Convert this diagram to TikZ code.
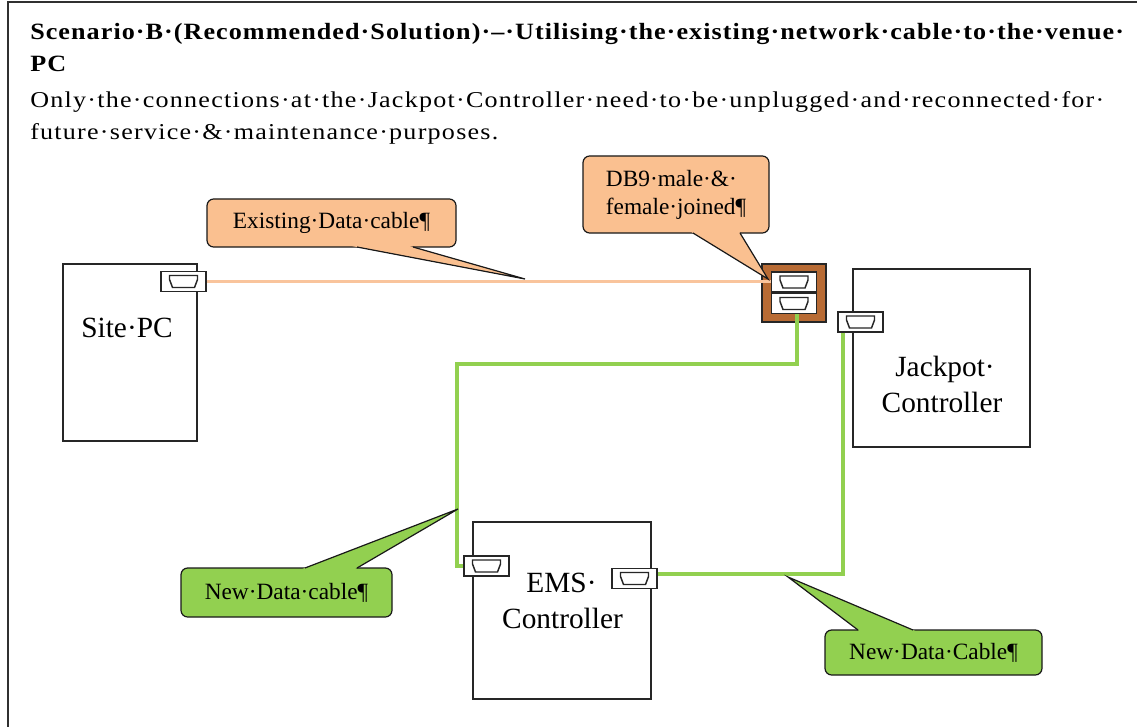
\documentclass[tikz,border=0pt]{standalone}
\usepackage{fontspec}
\setmainfont{Liberation Serif}
\newfontfamily\titlefont[FakeStretch=1.12,LetterSpace=4.5]{Liberation Serif}
\newfontfamily\bodyfont[FakeStretch=1.15,LetterSpace=5.5]{Liberation Serif}
\usetikzlibrary{calc}
\definecolor{peach}{HTML}{FAC090}
\definecolor{peachline}{HTML}{F9C49C}
\definecolor{brownjoin}{HTML}{B86B34}
\definecolor{greenc}{HTML}{92D050}
\definecolor{framegray}{HTML}{303030}
\tikzset{
  devbox/.style={draw=black!85, line width=1.1pt, fill=white, inner sep=0pt},
  portbox/.style={draw=black!85, line width=1.1pt, fill=white, inner sep=0pt, minimum width=33.75pt, minimum height=15pt},
  joinbox/.style={draw=black!85, line width=1.1pt, fill=brownjoin, inner sep=0pt, minimum width=48pt, minimum height=43.5pt},
  devlabel/.style={font=\fontsize{22}{26}\selectfont, inner sep=0pt, anchor=base},
  calloutbox/.style={draw=black!90, line width=0.9pt, rounded corners=5pt, inner sep=0pt, font=\fontsize{17.5}{21}\selectfont},
  orangecable/.style={draw=peachline, line width=2.3pt},
  greencable/.style={draw=greenc, line width=2.3pt},
  titletext/.style={font=\titlefont\fontsize{17.5}{21}\selectfont\bfseries, inner sep=0pt, anchor=base west},
  bodytext/.style={font=\bodyfont\fontsize{17}{20}\selectfont, inner sep=0pt, anchor=base west}
}
\begin{document}
\begin{tikzpicture}[x=0.75pt,y=-0.75pt]
\useasboundingbox (0,0) rectangle (1137,727);
% frame
\draw[framegray, line width=1.5pt] (8,727) -- (8,2) -- (1137,2);
% heading texts
\node[titletext] (t1) at (30,40) {Scenario·B·(Recommended·Solution)·–·Utilising·the·existing·network·cable·to·the·venue·};
\node[titletext] (t2) at (30,72) {PC};
\node[bodytext] (t3) at (30,108) {Only·the·connections·at·the·Jackpot·Controller·need·to·be·unplugged·and·reconnected·for·};
\node[bodytext] (t4) at (30,140) {future·service·\&·maintenance·purposes.};
% devices
\node[devbox, minimum width=100.5pt, minimum height=132.75pt] (site) at (130,352.5) {};
\node[devbox, minimum width=132.75pt, minimum height=133.5pt] (jack) at (941.5,358) {};
\node[devbox, minimum width=133.5pt, minimum height=132.75pt] (ems) at (562,610.5) {};
\node[devlabel] (sitel) at (127,337) {Site·PC};
\node[devlabel] (jackl1) at (945,376) {Jackpot·};
\node[devlabel] (jackl2) at (942,412) {Controller};
\node[devlabel] (emsl1) at (561.5,592) {EMS·};
\node[devlabel] (emsl2) at (562.5,628) {Controller};
% joiner
\node[joinbox] (join) at (794,293) {};
% ports
\node[portbox] (sc) at (183.5,281.5) {};
\node[portbox] (ju) at (794,282) {};
\node[portbox] (jlo) at (794,303.5) {};
\node[portbox] (jc) at (860.5,322) {};
\node[portbox] (emsl) at (486.5,566) {};
\node[portbox] (emsr) at (634.5,578.5) {};
\foreach \c in {sc,ju,jlo,jc,emsl,emsr}{
  \draw[black!85, line width=1.1pt, shift={(\c.center)}] (-14,-6) -- (14,-6) -- (14,-2) -- (11,6) -- (-11,6) -- (-14,-2) -- cycle;
}
% cables
\draw[orangecable] (sc.east) -- (sc.east -| ju.west);
\coordinate (g1) at (457,364);
\draw[greencable] ($(jlo.south)+(3,0)$) |- (g1) |- (emsl.west);
\coordinate (g2) at (843,574);
\draw[greencable] (jc.south -| g2) -- (g2) -- ($(emsr.east)+(0,-4.5)$);
% Existing data cable
\coordinate (ea) at (357,247); \coordinate (et) at (525,279); \coordinate (eb) at (413,247);
\fill[peach] (ea) -- (et) -- (eb) -- cycle;
\node[calloutbox, fill=peach, minimum width=186.75pt, minimum height=36pt] (ce) at (331.5,223) {Existing·Data·cable¶};
\fill[peach] ($(et)!1.15!(ea)$) -- (et) -- ($(et)!1.15!(eb)$) -- cycle;
\draw[black!90, line width=0.9pt] (ea) -- (et) -- (eb);
% DB9
\coordinate (da) at (693,233); \coordinate (dt) at (768,279); \coordinate (db) at (740,233);
\fill[peach] (da) -- (dt) -- (db) -- cycle;
\node[calloutbox, fill=peach, minimum width=139.5pt, minimum height=57.75pt, align=left] (cd) at (676,194.5) {DB9·male·\&·\\female·joined¶};
\fill[peach] ($(dt)!1.1!(da)$) -- (dt) -- ($(dt)!1.1!(db)$) -- cycle;
\draw[black!90, line width=0.9pt] (da) -- (dt) -- (db);
% New data cable left
\coordinate (na) at (305,568); \coordinate (nt) at (458,509); \coordinate (nb) at (357,568);
\fill[greenc] (na) -- (nt) -- (nb) -- cycle;
\node[calloutbox, fill=greenc, minimum width=158.25pt, minimum height=36.75pt] (cn) at (286.5,592.5) {New·Data·cable¶};
\fill[greenc] ($(nt)!1.1!(na)$) -- (nt) -- ($(nt)!1.1!(nb)$) -- cycle;
\draw[black!90, line width=0.9pt] (na) -- (nt) -- (nb);
% New data cable right
\coordinate (ra) at (858,630); \coordinate (rt) at (788,577); \coordinate (rb) at (913,630);
\fill[greenc] (ra) -- (rt) -- (rb) -- cycle;
\node[calloutbox, fill=greenc, minimum width=162.75pt, minimum height=33.75pt] (cr) at (933.5,652.5) {New·Data·Cable¶};
\fill[greenc] ($(rt)!1.1!(ra)$) -- (rt) -- ($(rt)!1.1!(rb)$) -- cycle;
\draw[black!90, line width=0.9pt] (ra) -- (rt) -- (rb);
\end{tikzpicture}
\end{document}
